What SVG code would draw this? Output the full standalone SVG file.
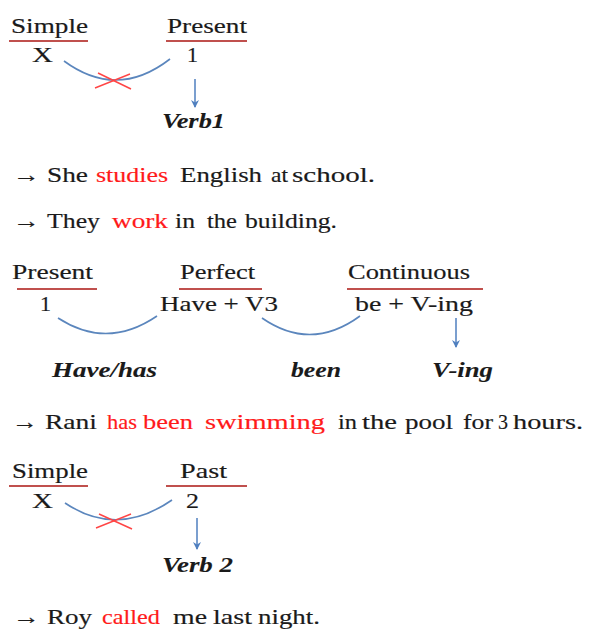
<svg xmlns="http://www.w3.org/2000/svg" width="592" height="633" viewBox="0 0 592 633">
<defs>
<style>
text{font-family:"Liberation Serif","Times New Roman",Times,serif;font-size:22px;fill:#1a1a1a;stroke:#1a1a1a;stroke-width:0.18}
.r{fill:#ff1a1a;stroke:#ff1a1a}
.bi{font-weight:bold;font-style:italic;stroke-width:0.1}
.ul{stroke:#c0504d;stroke-width:1.8}
.arc{fill:none;stroke:#5b86bd;stroke-width:1.6}
.arr{stroke:#4f7fbf;stroke-width:1.5;marker-end:url(#ah)}
.cross{stroke:#ff4545;stroke-width:1.5}
</style>
<marker id="ah" viewBox="0 0 8 10" refX="7" refY="5" markerWidth="8" markerHeight="10" markerUnits="userSpaceOnUse" orient="auto">
<path d="M0,1 L8,5 L0,9 L2.5,5 Z" fill="#4f7fbf"/>
</marker>
</defs>
<rect width="592" height="633" fill="#fff"/>

<g id="connectors">
<path class="arc" d="M64,61 Q117,100 170,59"/>
<line class="cross" x1="95" y1="88" x2="130" y2="74"/>
<line class="cross" x1="98" y1="73" x2="131" y2="89"/>
<line class="arr" x1="195" y1="79" x2="195" y2="107"/>
<path class="arc" d="M58,318 Q107,350 157,316"/>
<path class="arc" d="M262,318 Q311,352 360,316"/>
<line class="arr" x1="456" y1="318" x2="456" y2="347"/>
<path class="arc" d="M65,503 Q117,538 172,500"/>
<line class="cross" x1="96" y1="528" x2="131" y2="514"/>
<line class="cross" x1="99" y1="514" x2="132" y2="529"/>
<line class="arr" x1="197" y1="518" x2="197" y2="549"/>
</g>

<g id="simple1">
<text x="11" y="33" textLength="77" lengthAdjust="spacingAndGlyphs">Simple</text>
<line class="ul" x1="9" y1="41" x2="88" y2="41"/>
<text x="32" y="62" textLength="21" lengthAdjust="spacingAndGlyphs">X</text>
</g>
<g id="present1">
<text x="167" y="33" textLength="80" lengthAdjust="spacingAndGlyphs">Present</text>
<line class="ul" x1="166" y1="41" x2="247" y2="41"/>
<text x="187" y="62" textLength="11" lengthAdjust="spacingAndGlyphs">1</text>
</g>
<g id="verb1">
<text class="bi" x="162" y="128" textLength="63" lengthAdjust="spacingAndGlyphs">Verb1</text>
</g>

<g id="sentence1">
<text x="13" y="182" textLength="27" lengthAdjust="spacingAndGlyphs">→</text>
<text x="47" y="182" textLength="41" lengthAdjust="spacingAndGlyphs">She</text>
<text class="r" x="96" y="182" textLength="72" lengthAdjust="spacingAndGlyphs">studies</text>
<text x="180" y="182" textLength="82" lengthAdjust="spacingAndGlyphs">English</text>
<text x="271" y="182" textLength="17" lengthAdjust="spacingAndGlyphs">at</text>
<text x="292" y="182" textLength="83" lengthAdjust="spacingAndGlyphs">school.</text>
</g>
<g id="sentence2">
<text x="13" y="228" textLength="27" lengthAdjust="spacingAndGlyphs">→</text>
<text x="47" y="228" textLength="53" lengthAdjust="spacingAndGlyphs">They</text>
<text class="r" x="112" y="228" textLength="56" lengthAdjust="spacingAndGlyphs">work</text>
<text x="175" y="228" textLength="20" lengthAdjust="spacingAndGlyphs">in</text>
<text x="207" y="228" textLength="30" lengthAdjust="spacingAndGlyphs">the</text>
<text x="245" y="228" textLength="92" lengthAdjust="spacingAndGlyphs">building.</text>
</g>

<g id="present2">
<text x="12" y="279" textLength="81" lengthAdjust="spacingAndGlyphs">Present</text>
<line class="ul" x1="17" y1="289" x2="97" y2="289"/>
<text x="40" y="311" textLength="11" lengthAdjust="spacingAndGlyphs">1</text>
</g>
<g id="perfect">
<text x="180" y="279" textLength="75" lengthAdjust="spacingAndGlyphs">Perfect</text>
<line class="ul" x1="179" y1="289" x2="262" y2="289"/>
<text x="160" y="311" textLength="118" lengthAdjust="spacingAndGlyphs">Have + V3</text>
</g>
<g id="continuous">
<text x="348" y="279" textLength="122" lengthAdjust="spacingAndGlyphs">Continuous</text>
<line class="ul" x1="347" y1="289" x2="483" y2="289"/>
<text x="355" y="311" textLength="118" lengthAdjust="spacingAndGlyphs">be + V-ing</text>
</g>
<g id="havehas"><text class="bi" x="52" y="377" textLength="105" lengthAdjust="spacingAndGlyphs">Have/has</text></g>
<g id="been"><text class="bi" x="291" y="377" textLength="50" lengthAdjust="spacingAndGlyphs">been</text></g>
<g id="ving"><text class="bi" x="432" y="377" textLength="61" lengthAdjust="spacingAndGlyphs">V-ing</text></g>

<g id="sentence3">
<text x="12" y="429" textLength="26" lengthAdjust="spacingAndGlyphs">→</text>
<text x="45" y="429" textLength="52" lengthAdjust="spacingAndGlyphs">Rani</text>
<text class="r" x="107" y="429" textLength="30" lengthAdjust="spacingAndGlyphs">has</text>
<text class="r" x="143" y="429" textLength="50" lengthAdjust="spacingAndGlyphs">been</text>
<text class="r" x="205" y="429" textLength="120" lengthAdjust="spacingAndGlyphs">swimming</text>
<text x="338" y="429" textLength="19" lengthAdjust="spacingAndGlyphs">in</text>
<text x="362" y="429" textLength="35" lengthAdjust="spacingAndGlyphs">the</text>
<text x="405" y="429" textLength="48" lengthAdjust="spacingAndGlyphs">pool</text>
<text x="463" y="429" textLength="30" lengthAdjust="spacingAndGlyphs">for</text>
<text x="498" y="429" textLength="10" lengthAdjust="spacingAndGlyphs">3</text>
<text x="513" y="429" textLength="70" lengthAdjust="spacingAndGlyphs">hours.</text>
</g>

<g id="simple2">
<text x="12" y="478" textLength="76" lengthAdjust="spacingAndGlyphs">Simple</text>
<line class="ul" x1="9" y1="486" x2="88" y2="486"/>
<text x="32" y="508" textLength="21" lengthAdjust="spacingAndGlyphs">X</text>
</g>
<g id="past">
<text x="180" y="478" textLength="47" lengthAdjust="spacingAndGlyphs">Past</text>
<line class="ul" x1="166" y1="486" x2="247" y2="486"/>
<text x="186" y="508" textLength="13" lengthAdjust="spacingAndGlyphs">2</text>
</g>
<g id="verb2">
<text class="bi" x="162" y="572" textLength="71" lengthAdjust="spacingAndGlyphs">Verb 2</text>
</g>

<g id="sentence4">
<text x="13" y="624" textLength="27" lengthAdjust="spacingAndGlyphs">→</text>
<text x="47" y="624" textLength="45" lengthAdjust="spacingAndGlyphs">Roy</text>
<text class="r" x="102" y="624" textLength="58" lengthAdjust="spacingAndGlyphs">called</text>
<text x="173" y="624" textLength="34" lengthAdjust="spacingAndGlyphs">me</text>
<text x="213" y="624" textLength="39" lengthAdjust="spacingAndGlyphs">last</text>
<text x="258" y="624" textLength="62" lengthAdjust="spacingAndGlyphs">night.</text>
</g>
</svg>
